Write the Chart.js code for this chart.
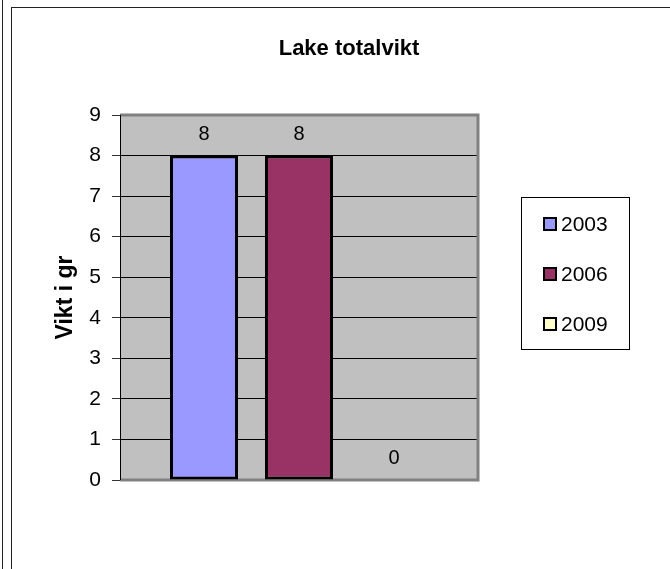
<!DOCTYPE html>
<html lang="sv">
<head>
<meta charset="UTF-8">
<title>Lake totalvikt</title>
<script src="https://cdn.jsdelivr.net/npm/chart.js@4"></script>
<style>
  body { margin: 0; background: #fff; }
  #wrap { position: relative; width: 670px; height: 569px; overflow: hidden; }
  #line { position: absolute; left: 2px; top: 0; width: 1px; height: 569px; background: #222; }
  #frame { position: absolute; left: 11px; top: 7px; width: 700px; height: 600px; border-left: 1px solid #222; border-top: 1px solid #222; }
  canvas { position: absolute; left: 0; top: 0; }
</style>
</head>
<body>
<div id="wrap">
  <div id="line"></div>
  <div id="frame"></div>
  <canvas id="chart" width="670" height="569"></canvas>
</div>
<script>
const categories = ['Lake'];
const years = ['2003', '2006', '2009'];
const weights = [8, 8, 0];
const colors = ['#9999FF', '#993366', '#FFFFCC'];
const title = 'Lake totalvikt';
const yTitle = 'Vikt i gr';

const FONT = 'Arial, "Liberation Sans", sans-serif';

// gray plot background, gray plot border, title, y title, value labels, legend box
const excelLook = {
    id: 'excelLook',
    beforeDraw(chart) {
        const { ctx, chartArea: a } = chart;
        ctx.save();
        ctx.fillStyle = '#C0C0C0';
        ctx.fillRect(a.left, a.top, a.right - a.left, a.bottom - a.top);
        ctx.restore();
    },
    beforeDatasetsDraw(chart) {
        const { ctx, chartArea: a } = chart;
        ctx.save();
        ctx.strokeStyle = '#808080';
        ctx.lineWidth = 3;
        ctx.beginPath();
        ctx.moveTo(a.left, a.top);
        ctx.lineTo(a.right, a.top);
        ctx.lineTo(a.right, a.bottom);
        ctx.lineTo(a.left, a.bottom);
        ctx.stroke();
        ctx.strokeStyle = '#000';
        ctx.lineWidth = 1;
        ctx.beginPath();
        ctx.moveTo(a.left + 0.5, a.top);
        ctx.lineTo(a.left + 0.5, a.bottom);
        ctx.stroke();
        ctx.restore();
    },
    afterDraw(chart) {
        const { ctx, chartArea: a } = chart;
        ctx.save();
        ctx.fillStyle = '#000';
        ctx.textAlign = 'center';
        ctx.textBaseline = 'middle';
        ctx.font = 'bold 22px ' + FONT;
        ctx.fillText(title, 349, 49);

        ctx.save();
        ctx.translate(66, (a.top + a.bottom) / 2);
        ctx.rotate(-Math.PI / 2);
        ctx.font = 'bold 23px ' + FONT;
        ctx.fillText(yTitle, 0, 0);
        ctx.restore();

        // value labels above bars
        ctx.font = '20px ' + FONT;
        ctx.textBaseline = 'alphabetic';
        chart.data.datasets.forEach((ds, i) => {
            chart.getDatasetMeta(i).data.forEach((bar, j) => {
                ctx.fillText(String(ds.data[j]), bar.x, bar.y - 16);
            });
        });

        // legend
        const lx = 521, ly = 197, lw = 108, lh = 152;
        ctx.fillStyle = '#fff';
        ctx.fillRect(lx, ly, lw, lh);
        ctx.strokeStyle = '#000';
        ctx.lineWidth = 1;
        ctx.strokeRect(lx + 0.5, ly + 0.5, lw, lh);
        ctx.font = '21px ' + FONT;
        ctx.textAlign = 'left';
        ctx.textBaseline = 'middle';
        chart.data.datasets.forEach((ds, i) => {
            const cy = 224 + i * 50;
            ctx.fillStyle = ds.backgroundColor;
            ctx.fillRect(544, cy - 6, 12, 12);
            ctx.lineWidth = 2;
            ctx.strokeStyle = '#000';
            ctx.strokeRect(544, cy - 6, 12, 12);
            ctx.fillStyle = '#000';
            ctx.fillText(ds.label, 561, cy + 1);
        });
        ctx.restore();
    }
};

new Chart(document.getElementById('chart'), {
    type: 'bar',
    data: {
        labels: categories,
        datasets: years.map((y, i) => ({
            label: y,
            data: [weights[i]],
            backgroundColor: colors[i],
            borderColor: '#000',
            borderWidth: weights[i] === 0 ? 0 : 3,
            borderSkipped: false
        }))
    },
    options: {
        responsive: false,
        animation: false,
        events: [],
        categoryPercentage: 0.796,
        barPercentage: 0.716,
        layout: { padding: { left: 0, top: 115, right: 192, bottom: 89 } },
        plugins: {
            legend: { display: false },
            title: { display: false },
            tooltip: { enabled: false }
        },
        scales: {
            x: { display: false },
            y: {
                min: 0,
                max: 9,
                afterFit(scale) { scale.width = 120; },
                ticks: {
                    stepSize: 1,
                    color: '#000',
                    padding: 11,
                    font: { family: FONT, size: 21 }
                },
                grid: {
                    color: c => (c.tick && (c.tick.value === 0 || c.tick.value === 9)) ? '#808080' : '#000',
                    tickColor: '#333',
                    tickLength: 8,
                    lineWidth: 1
                },
                border: { display: false }
            }
        }
    },
    plugins: [excelLook]
});
</script>
</body>
</html>
